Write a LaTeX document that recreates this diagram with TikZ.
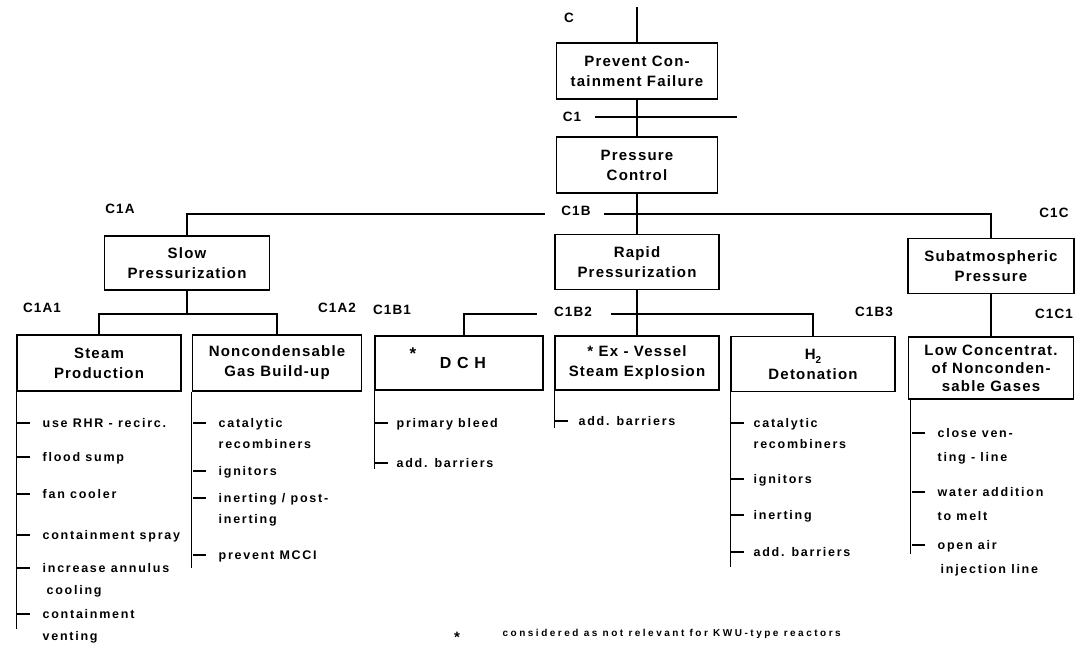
\documentclass[tikz,border=0pt]{standalone}
\usepackage{fontspec}
\setmainfont{Liberation Sans}
\newfontfamily\boxfont[LetterSpace=8]{Liberation Sans}
\newfontfamily\itemfont[LetterSpace=14]{Liberation Sans}
\newfontfamily\notefont[LetterSpace=25]{Liberation Sans}
\begin{document}
\begin{tikzpicture}[x=1pt,y=-1pt,line width=1.3pt,
	blk/.style={draw,line width=1.7pt,align=center,inner sep=0pt,font=\boxfont\bfseries\fontsize{15}{20}\selectfont},
	lbl/.style={inner sep=0pt,font=\boxfont\bfseries\fontsize{13.5}{15}\selectfont},
	itm/.style={anchor=base west,inner sep=0pt,font=\itemfont\bfseries\fontsize{12.5}{15}\selectfont}]
		\useasboundingbox (0,0) rectangle (1086,651);
		\node[blk,minimum width=161,minimum height=56] (prevent) at (637,71) {Prevent Con-\\tainment Failure};
		\node[blk,minimum width=161,minimum height=56] (pressure) at (637,165) {Pressure\\Control};
		\node[blk,minimum width=165,minimum height=54] (slow) at (187,263) {Slow\\Pressurization};
		\node[blk,minimum width=164,minimum height=55] (rapid) at (637,262) {Rapid\\Pressurization};
		\node[blk,minimum width=166,minimum height=55] (subatm) at (991,266) {Subatmospheric\\Pressure};
		\node[blk,minimum width=164,minimum height=56] (steam) at (99,363) {Steam\\Production};
		\node[blk,minimum width=169,minimum height=56] (noncond) at (277,363) {Noncondensable\\Gas Build-up};
		\node[blk,minimum width=168,minimum height=54,font=\boxfont\bfseries\fontsize{16}{20}\selectfont] (dch) at (459,363) {\hspace{8pt}D C H};
		\node[blk,minimum width=164,minimum height=54] (exves) at (637,363) {* Ex - Vessel\\Steam Explosion};
		\node[blk,minimum width=164,minimum height=55] (htwo) at (813,364) {H\raisebox{-4pt}{\fontsize{10}{10}\selectfont 2}\\Detonation};
		\node[blk,minimum width=165,minimum height=62,font=\boxfont\bfseries\fontsize{15}{18}\selectfont] (lowc) at (991,368) {Low Concentrat.\\of Noncon\-den-\\sable Gases};
		\node[blk,draw=none,font=\bfseries\fontsize{17}{17}\selectfont] (dchstar) at (413,354) {*};
		
		\node[lbl] (lc) at (569,18) {C}; \node[lbl] (lcone) at (572,117) {C1};
		\node[lbl] (lca) at (120,209) {C1A}; \node[lbl] (lcb) at (576,211) {C1B}; \node[lbl] (lcc) at (1054,213) {C1C};
		\node[lbl] (lcaone) at (42,308) {C1A1}; \node[lbl] (lcatwo) at (337,308) {C1A2};
		\node[lbl] (lcbone) at (392,310) {C1B1}; \node[lbl] (lcbtwo) at (573,312) {C1B2}; \node[lbl] (lcbthree) at (874,312) {C1B3};
		\node[lbl] (lccone) at (1054,314) {C1C1};
		
		\coordinate (top) at (637,7); \draw (top) -- (prevent.north);
		\draw (prevent.south) -- (pressure.north);
		\coordinate (conel) at (595,117); \coordinate (coner) at (737,117); \draw (conel) -- (coner);
		\draw (pressure.south) -- (rapid.north);
		\coordinate (caend) at (545,214); \draw (slow.north) |- (caend);
		\coordinate (cbstart) at (604,214); \draw (cbstart) -| (subatm.north);
		\coordinate (sj) at (187,314); \draw (slow.south) -- (sj); \draw (steam.north) |- (sj) -| (noncond.north);
		\coordinate (bone) at (537,314); \draw ([xshift=5]dch.north) |- (bone);
		\coordinate (btwo) at (611,314); \draw (btwo) -| (htwo.north);
		\draw (rapid.south) -- (exves.north);
		\draw (subatm.south) -- (lowc.north);
		
		\draw (steam.south west) -- ++(0,237);
		\foreach \y/\t/\u in {423/use RHR - recirc./,457/flood sump/,494/fan cooler/,535/containment spray/,568/increase annulus/\hspace{4pt}cooling,614/containment/venting}
			{\draw (17,\y) -- ++(13,0); \node[itm] (sp\y) at (42,\y+4) {\t}; \node[itm] (spb\y) at (42,\y+26) {\u};}
		\draw (noncond.south west) -- ++(0,176);
		\foreach \y/\t/\u in {423/catalytic/recombiners,471/ignitors/,498/{inerting / post-}/inerting,555/prevent MCCI/}
			{\draw (193,\y) -- ++(13,0); \node[itm] (ng\y) at (218,\y+4) {\t}; \node[itm] (ngb\y) at (218,\y+25) {\u};}
		\draw (dch.south west) -- ++(0,78);
		\foreach \y/\t in {423/primary bleed,463/add. barriers}
			{\draw (375,\y) -- ++(13,0); \node[itm] (dc\y) at (396,\y+4) {\t};}
		\draw (exves.south west) -- ++(0,37);
		\foreach \y/\t in {421/add. barriers}
			{\draw (555,\y) -- ++(13,0); \node[itm] (ev\y) at (578,\y+4) {\t};}
		\draw (htwo.south west) -- ++(0,175);
		\foreach \y/\t/\u in {423/catalytic/recombiners,479/ignitors/,515/inerting/,552/add. barriers/}
			{\draw (731,\y) -- ++(13,0); \node[itm] (hd\y) at (753,\y+4) {\t}; \node[itm] (hdb\y) at (753,\y+25) {\u};}
		\draw ([xshift=3]lowc.south west) -- ++(0,154);
		\foreach \y/\t/\u in {433/close ven-/ting - line,492/water addition/to melt,545/open air/\hspace{3pt}injection line}
			{\draw (912,\y) -- ++(13,0); \node[itm] (lg\y) at (937,\y+4) {\t}; \node[itm] (lgb\y) at (937,\y+28) {\u};}
		
		\node[blk,draw=none,font=\bfseries\fontsize{15}{15}\selectfont] (star) at (457,637) {*};
		\node[anchor=west,inner sep=0pt,font=\notefont\bfseries\fontsize{10}{10}\selectfont] (note) at (502,634) {considered as not relevant for KWU-type reactors};
\end{tikzpicture}
\end{document}
